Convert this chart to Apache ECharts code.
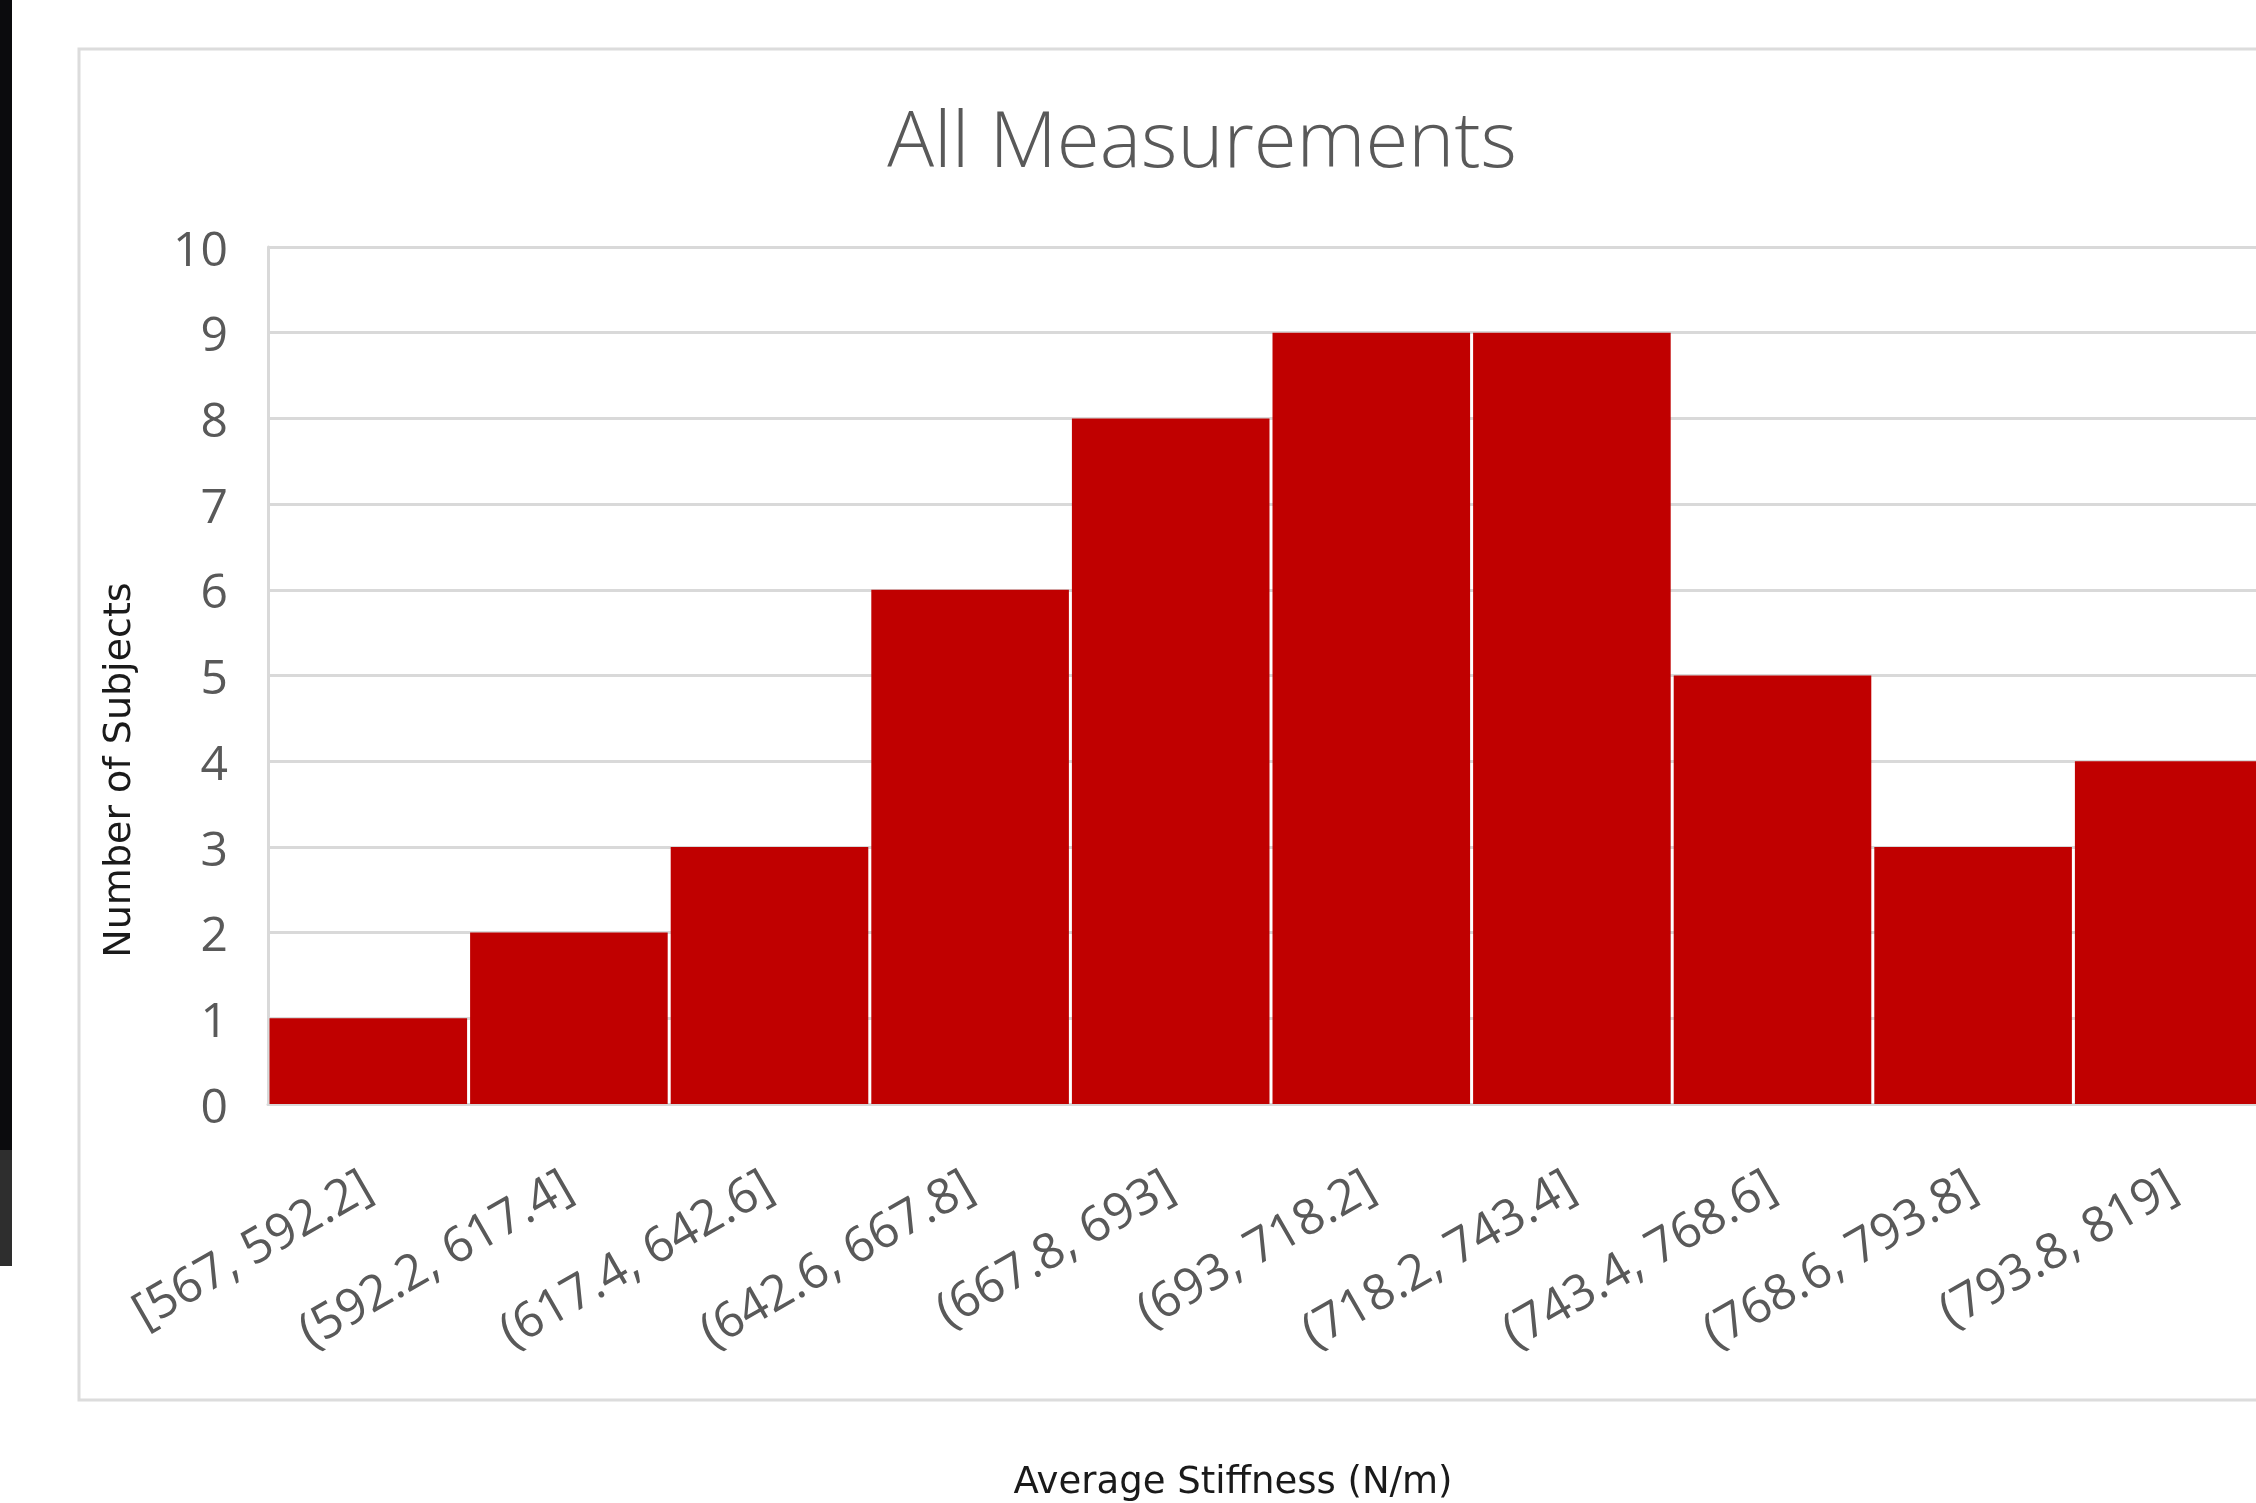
<!DOCTYPE html>
<html>
<head>
<meta charset="utf-8">
<script src="https://cdn.jsdelivr.net/npm/echarts@6/dist/echarts.min.js"></script>
<style>
  html, body { margin: 0; padding: 0; background: #ffffff; overflow: hidden; width: 2256px; height: 1503px; }
  /* the plot runs slightly past the right edge of the page */
  #chart { width: 2300px; height: 1503px; }
</style>
</head>
<body>
<div id="chart"></div>
<script>
// Histogram bins of average stiffness (N/m)
const binLabels = [
  '[567, 592.2]', '(592.2, 617.4]', '(617.4, 642.6]', '(642.6, 667.8]', '(667.8, 693]',
  '(693, 718.2]', '(718.2, 743.4]', '(743.4, 768.6]', '(768.6, 793.8]', '(793.8, 819]'
];
// Number of subjects per bin
const subjectCounts = [1, 2, 3, 6, 8, 9, 9, 5, 3, 4];
// Y axis range
const yMin = 0, yMax = 10, yStep = 1;

const chart = echarts.init(document.getElementById('chart'), null, { renderer: 'canvas' });

const labelFont = '"Open Sans", "Noto Sans", sans-serif';
const titleFont = '"DejaVu Sans", "Noto Sans", sans-serif';
const gridGray = '#d9d9d9';

chart.setOption({
  backgroundColor: '#ffffff',
  animation: false,
  title: {
    text: 'All Measurements',
    left: 1197,
    top: 140,
    textAlign: 'center',
    textVerticalAlign: 'middle',
    textStyle: {
      fontFamily: labelFont,
      fontWeight: 300,
      fontSize: 78,
      color: '#595959'
    }
  },
  grid: { left: 268, top: 247, right: 26, bottom: 399, containLabel: false },
  xAxis: {
    type: 'category',
    data: binLabels,
    axisLine: { show: true, lineStyle: { color: gridGray, width: 3 } },
    axisTick: { show: false },
    axisLabel: {
      interval: 0,
      rotate: 30,
      margin: 80,
      fontFamily: labelFont,
      fontSize: 49,
      color: '#595959'
    }
  },
  yAxis: {
    type: 'value',
    min: yMin,
    max: yMax,
    interval: yStep,
    axisLine: { show: true, lineStyle: { color: gridGray, width: 3 } },
    axisTick: { show: false },
    splitLine: { show: true, lineStyle: { color: gridGray, width: 3 } },
    axisLabel: {
      margin: 40,
      verticalAlign: 'top',
      lineHeight: 10,
      fontFamily: labelFont,
      fontSize: 48,
      color: '#595959'
    }
  },
  series: [{
    type: 'bar',
    data: subjectCounts,
    barCategoryGap: '1.5%',
    itemStyle: { color: '#c00000' },
    z: 3
  }],
  graphic: [
    // chart frame
    {
      type: 'rect',
      shape: { x: 79, y: 49, width: 2300, height: 1351 },
      style: { fill: null, stroke: '#dcdcdc', lineWidth: 3 },
      silent: true, z: 0
    },
    // dark strip along the left edge
    {
      type: 'rect',
      shape: { x: 0, y: 0, width: 12, height: 1150 },
      style: { fill: '#0b0b0d' },
      silent: true
    },
    {
      type: 'rect',
      shape: { x: 0, y: 1150, width: 12, height: 116 },
      style: { fill: '#2e2e2e' },
      silent: true
    },
    // axis titles
    {
      type: 'text',
      x: 120, y: 770,
      rotation: Math.PI / 2,
      style: {
        text: 'Number of Subjects',
        font: '38px ' + titleFont,
        fill: '#1a1a1a',
        align: 'center',
        verticalAlign: 'middle'
      },
      silent: true
    },
    {
      type: 'text',
      x: 1233, y: 1483,
      style: {
        text: 'Average Stiffness (N/m)',
        font: '37px ' + titleFont,
        fill: '#1a1a1a',
        align: 'center',
        verticalAlign: 'middle'
      },
      silent: true
    }
  ]
});
</script>
</body>
</html>
